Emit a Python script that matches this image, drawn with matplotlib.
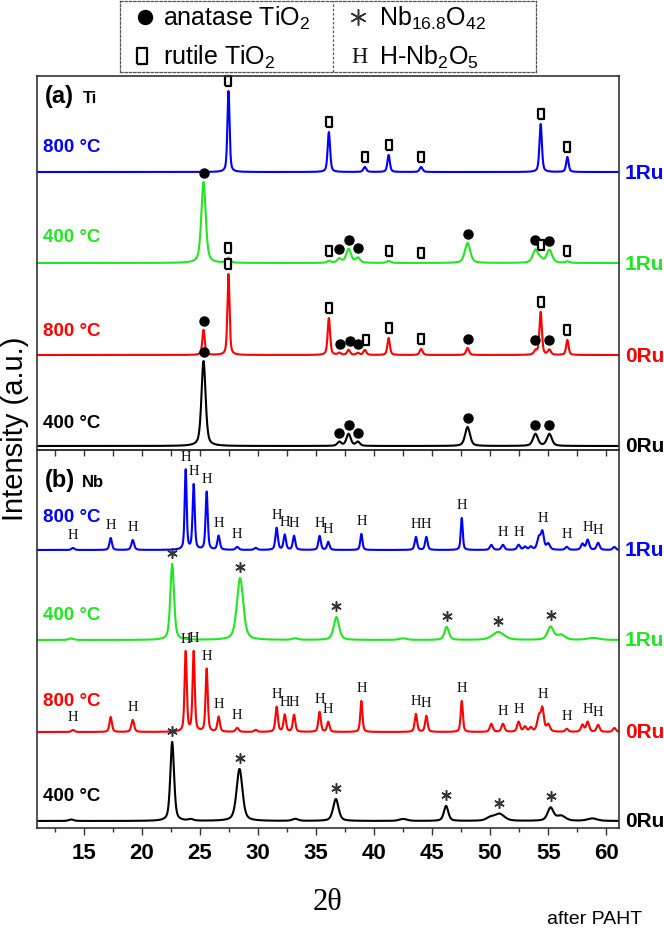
import numpy as np
import matplotlib.pyplot as plt
from matplotlib.ticker import MultipleLocator

plt.rcParams['font.family'] = ['Liberation Sans', 'DejaVu Sans']
plt.rcParams['mathtext.fontset'] = 'custom'
plt.rcParams['mathtext.rm'] = 'Liberation Sans'
plt.rcParams['mathtext.it'] = 'Liberation Sans:italic'
plt.rcParams['mathtext.bf'] = 'Liberation Sans:bold'

# peaks: (2theta, height, fwhm)
ti_400_0ru = [(25.3, 85, 0.42), (37.0, 4, 0.4), (37.8, 12, 0.45), (38.6, 4, 0.4),
              (48.05, 19, 0.5), (53.9, 12, 0.5), (55.1, 12, 0.5)]
ti_800_0ru = [(25.3, 25, 0.25), (27.45, 81, 0.22), (36.1, 37, 0.25), (37.0, 2, 0.3),
              (37.8, 5, 0.3), (38.6, 2, 0.3), (39.2, 5, 0.3), (41.25, 17, 0.25),
              (44.05, 6, 0.3), (48.05, 7, 0.3), (53.9, 4, 0.3), (54.35, 43, 0.25),
              (55.1, 5, 0.3), (56.65, 15, 0.25)]
ti_400_1ru = [(25.3, 81, 0.45), (27.45, 5, 0.35), (36.1, 2, 0.35), (37.0, 4, 0.45),
              (37.8, 14, 0.5), (38.6, 5, 0.45), (41.25, 2, 0.4), (48.05, 20, 0.55),
              (53.9, 13, 0.55), (54.35, 3, 0.4), (55.1, 13, 0.55), (56.65, 1.5, 0.4)]
ti_800_1ru = [(27.45, 81, 0.22), (36.1, 40, 0.25), (39.2, 5, 0.3), (41.25, 17, 0.25),
              (44.05, 5, 0.3), (54.35, 48, 0.25), (56.65, 15, 0.25)]

nb_400_0ru = [(13.9, 1.5, 0.5), (22.6, 79, 0.38), (24.2, 1.5, 0.5), (28.4, 52, 0.6),
              (33.2, 2, 0.6), (36.7, 22, 0.55), (42.5, 2, 0.8), (46.2, 15, 0.45),
              (50.0, 3, 0.8), (50.8, 7, 1.0), (55.2, 13, 0.6), (56.1, 5, 0.9),
              (58.8, 2.5, 1.0)]
nb_800_0ru = [(14.05, 2, 0.3), (17.3, 15, 0.25), (19.2, 12, 0.28), (23.76, 80, 0.22),
              (24.45, 80, 0.22), (25.57, 63, 0.22), (26.6, 15, 0.25), (28.2, 4, 0.3),
              (29.8, 2, 0.3), (31.6, 25, 0.25), (32.3, 17, 0.25), (33.1, 17, 0.25),
              (35.3, 20, 0.25), (36.05, 10, 0.25), (38.9, 31, 0.22), (43.6, 18, 0.25),
              (44.5, 16, 0.25), (47.55, 31, 0.22), (50.1, 8, 0.3), (51.1, 8, 0.3),
              (52.45, 10, 0.3), (53.0, 5, 0.3), (53.5, 4, 0.3), (54.2, 15, 0.35),
              (54.5, 22, 0.3), (55.0, 7, 0.35), (56.6, 3, 0.3), (57.95, 7, 0.3),
              (58.4, 10, 0.3), (59.3, 7, 0.3), (60.7, 4, 0.3)]
nb_400_1ru = [(13.9, 1.5, 0.5), (22.6, 76, 0.38), (28.45, 62, 0.65), (33.2, 1.5, 0.6),
              (36.75, 23, 0.55), (42.5, 1.5, 0.8), (46.25, 13, 0.45), (50.7, 8, 1.2),
              (55.2, 13, 0.6), (56.1, 5, 0.8), (58.9, 2, 1.2)]
nb_800_1ru = [(14.05, 2, 0.3), (17.3, 12, 0.25), (19.2, 10, 0.28), (23.76, 80, 0.2),
              (24.45, 65, 0.22), (25.57, 58, 0.22), (26.6, 14, 0.25), (28.2, 3, 0.3),
              (29.8, 2, 0.3), (31.6, 22, 0.25), (32.3, 15, 0.25), (33.1, 14, 0.25),
              (35.3, 14, 0.25), (36.05, 8, 0.25), (38.9, 16, 0.22), (43.6, 13, 0.25),
              (44.5, 13, 0.25), (47.55, 32, 0.2), (50.1, 5, 0.3), (51.1, 5, 0.3),
              (52.45, 5, 0.3), (53.0, 3, 0.3), (53.5, 3, 0.3), (54.2, 12, 0.35),
              (54.5, 17, 0.3), (55.0, 6, 0.35), (56.6, 3, 0.3), (57.95, 6, 0.3),
              (58.4, 10, 0.3), (59.3, 7, 0.3), (60.7, 3, 0.3)]

# phase marks: A anatase, R rutile, N Nb16.8O42, H H-Nb2O5
ti_400_0ru_marks = [(25.3, 'A'), (37.0, 'A'), (37.8, 'A'), (38.6, 'A'), (48.05, 'A'),
                    (53.9, 'A'), (55.1, 'A')]
ti_800_0ru_marks = [(25.3, 'A'), (27.45, 'R'), (36.1, 'R'), (37.1, 'A'), (37.9, 'A'),
                    (38.6, 'A'), (39.3, 'R'), (41.25, 'R'), (44.05, 'R'), (48.05, 'A'),
                    (53.9, 'A'), (54.35, 'R'), (55.1, 'A'), (56.65, 'R')]
ti_400_1ru_marks = [(25.3, 'A'), (27.45, 'R'), (36.1, 'R'), (37.0, 'A'), (37.8, 'A'),
                    (38.6, 'A'), (41.25, 'R'), (44.05, 'R'), (48.05, 'A'), (53.9, 'A'),
                    (54.35, 'R'), (55.1, 'A'), (56.65, 'R')]
ti_800_1ru_marks = [(27.45, 'R'), (36.1, 'R'), (39.2, 'R'), (41.25, 'R'), (44.05, 'R'),
                    (54.35, 'R'), (56.65, 'R')]

h_nb2o5 = [14.05, 17.3, 19.2, 23.76, 24.45, 25.57, 26.6, 28.2, 31.6, 32.3, 33.1, 35.3,
           36.05, 38.9, 43.6, 44.5, 47.55, 51.1, 52.45, 54.5, 56.6, 58.4, 59.3]
nb_800_1ru_marks = [(p, 'H') for p in h_nb2o5]
nb_800_0ru_marks = [(p, 'H') for p in h_nb2o5 if p != 17.3]
nb_400_1ru_marks = [(p, 'N') for p in [22.6, 28.45, 36.75, 46.25, 50.7, 55.2]]
nb_400_0ru_marks = [(p, 'N') for p in [22.6, 28.4, 36.7, 46.2, 50.8, 55.2]]

xticks = [15, 20, 25, 30, 35, 40, 45, 50, 55, 60]

GREEN = '#22e622'
tt = np.linspace(10.9, 61.2, 4000)


def profile(peaks):
    y = np.zeros_like(tt)
    for p, h, w in peaks:
        d = (tt - p) / (w / 2)
        y += h * (0.5 / (1 + d ** 2) + 0.5 * np.exp(-np.log(2) * d ** 2))
    return y


rect = [(-0.7, -1), (0.7, -1), (0.7, 1), (-0.7, 1), (-0.7, -1)]
pads = {'A': 9, 'R': 10, 'N': 11, 'H': 13}


def draw_mark(ax, x, y, sym, big=False):
    k = 1.55 if big else 1.0
    if sym == 'A':
        ax.plot(x, y, 'o', color='k', ms=6.5 * k, clip_on=False)
    elif sym == 'R':
        ax.plot(x, y, marker=rect, mfc='white', mec='k', ms=7 * k, mew=1.6,
                ls='none', clip_on=False)
    elif sym == 'N':
        ax.plot(x, y, marker=(6, 2, 0), color='#333333', ms=7.5 * k, mew=1.1,
                ls='none', clip_on=False)
    else:
        ax.text(x, y, 'H', family='Liberation Serif', fontsize=10.5 * k,
                ha='center', va='center', color='#111111')


fig = plt.figure(figsize=(6.64, 9.29), dpi=100)
L, W = 37 / 664, 582 / 664
ax_a = fig.add_axes([L, 1 - 451 / 929, W, 374 / 929])
ax_b = fig.add_axes([L, 1 - 829 / 929, W, 378 / 929])
ax_b.set_facecolor('none')
ax_a.set_ylim(0, 374)
ax_b.set_ylim(0, 378)

panel_a = [(ti_800_1ru, ti_800_1ru_marks, 278, 'blue', '800 °C', '1Ru', 26),
           (ti_400_1ru, ti_400_1ru_marks, 187, GREEN, '400 °C', '1Ru', 26),
           (ti_800_0ru, ti_800_0ru_marks, 95, 'red', '800 °C', '0Ru', 24),
           (ti_400_0ru, ti_400_0ru_marks, 4, 'black', '400 °C', '0Ru', 24)]
panel_b = [(nb_800_1ru, nb_800_1ru_marks, 278, 'blue', '800 °C', '1Ru', 34),
           (nb_400_1ru, nb_400_1ru_marks, 188, GREEN, '400 °C', '1Ru', 26),
           (nb_800_0ru, nb_800_0ru_marks, 96, 'red', '800 °C', '0Ru', 31),
           (nb_400_0ru, nb_400_0ru_marks, 7, 'black', '400 °C', '0Ru', 25)]

for ax, traces in [(ax_a, panel_a), (ax_b, panel_b)]:
    for peaks, marks, base, col, temp, ru, lift in traces:
        y = base + profile(peaks)
        ax.plot(tt, y, color=col, lw=1.5)
        for p, sym in marks:
            win = np.abs(tt - p) < 0.12
            draw_mark(ax, p, y[win].max() + pads[sym], sym)
        ax.text(0.0103, base + lift, temp, transform=ax.get_yaxis_transform(),
                color=col, fontsize=13.5, fontweight='bold', va='center')
        ax.text(1.0103, base, ru, transform=ax.get_yaxis_transform(),
                color=col, fontsize=15, fontweight='bold', va='center', clip_on=False)
    ax.set_xlim(10.95, 61.1)
    ax.set_yticks([])
    for s in ax.spines.values():
        s.set_color('#333333')
        s.set_linewidth(1.2)

ax_a.xaxis.set_major_locator(MultipleLocator(2.5))
ax_a.tick_params(axis='x', direction='out', length=4, width=1, color='#333333',
                 labelbottom=False)
ax_b.set_xticks(xticks)
ax_b.xaxis.set_minor_locator(MultipleLocator(2.5))
ax_b.tick_params(axis='x', which='major', direction='out', length=5, width=1,
                 color='#333333', labelsize=16, pad=5)
ax_b.tick_params(axis='x', which='minor', direction='out', length=3, width=1,
                 color='#333333')
for lab in ax_b.get_xticklabels():
    lab.set_fontweight('bold')

ax_a.text(0.0137, 0.930, '(a)', transform=ax_a.transAxes, fontsize=17, fontweight='bold')
ax_a.text(0.079, 0.930, 'Ti', transform=ax_a.transAxes, fontsize=12, fontweight='bold')
ax_b.text(0.0137, 0.905, '(b)', transform=ax_b.transAxes, fontsize=17, fontweight='bold')
ax_b.text(0.077, 0.905, 'Nb', transform=ax_b.transAxes, fontsize=12, fontweight='bold')

fig.text(15 / 664, 1 - 429 / 929, 'Intensity (a.u.)', rotation=90, fontsize=21,
         ha='center', va='center')
fig.text(328 / 664, 1 - 903 / 929, '2θ', family='Liberation Serif', fontsize=22,
         ha='center', va='center')
fig.text(642 / 664, 1 - 920 / 929, 'after PAHT', fontsize=14, ha='right', va='center')

# legend box
leg = fig.add_axes([120 / 664, 1 - 73 / 929, 416 / 664, 71 / 929])
leg.set_xlim(0, 1)
leg.set_ylim(0, 1)
leg.set_xticks([])
leg.set_yticks([])
for s in leg.spines.values():
    s.set_linestyle((0, (2, 1.5)))
    s.set_color('#555555')
    s.set_linewidth(0.9)
leg.axvline(0.512, color='#555555', lw=0.9, ls=(0, (2, 1.5)))
draw_mark(leg, 0.06, 0.775, 'A', big=True)
draw_mark(leg, 0.053, 0.225, 'R', big=True)
draw_mark(leg, 0.572, 0.775, 'N', big=True)
draw_mark(leg, 0.577, 0.225, 'H', big=True)
leg.text(0.103, 0.775, 'anatase TiO$_2$', fontsize=18, va='center')
leg.text(0.103, 0.225, 'rutile TiO$_2$', fontsize=18, va='center')
leg.text(0.623, 0.775, 'Nb$_{16.8}$O$_{42}$', fontsize=18, va='center')
leg.text(0.623, 0.225, 'H-Nb$_2$O$_5$', fontsize=18, va='center')

fig.savefig('out.png', dpi=100)
